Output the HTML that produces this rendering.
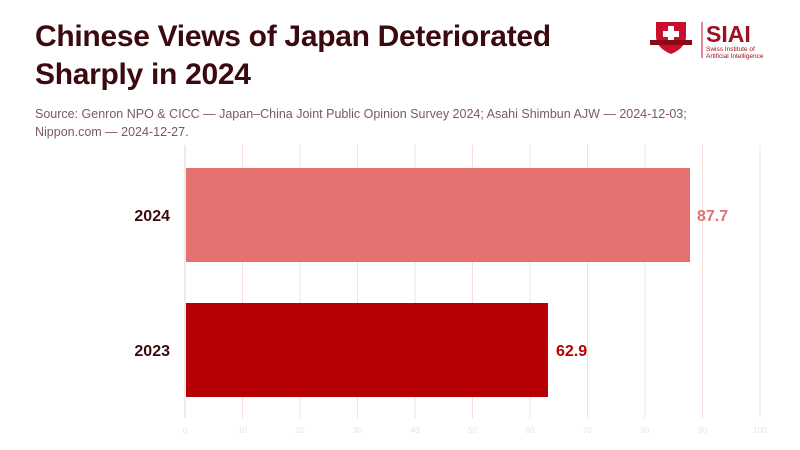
<!DOCTYPE html>
<html><head><meta charset="utf-8"><style>
body{margin:0;width:800px;height:450px;background:#fff;font-family:"Liberation Sans",sans-serif;position:relative;overflow:hidden}
.t{position:absolute;left:35px;top:18px;font-size:30px;font-weight:bold;color:#3b0a0f;line-height:38px;letter-spacing:-0.3px}
.s{position:absolute;left:35px;top:105px;font-size:12.5px;color:#7a5a5e;line-height:18px}
</style></head><body>
<div class="t">Chinese Views of Japan Deteriorated<br>Sharply in 2024</div>
<div class="s">Source: Genron NPO &amp; CICC — Japan–China Joint Public Opinion Survey 2024; Asahi Shimbun AJW — 2024-12-03;<br>Nippon.com — 2024-12-27.</div>
<svg width="800" height="450" style="position:absolute;left:0;top:0">
<g stroke="#f6dede" stroke-width="1">
<line x1="185" y1="145" x2="185" y2="418" stroke="#e6d6d6"/>
<line x1="242.5" y1="145" x2="242.5" y2="418"/><line x1="300" y1="145" x2="300" y2="418"/>
<line x1="357.5" y1="145" x2="357.5" y2="418"/><line x1="415" y1="145" x2="415" y2="418"/>
<line x1="472.5" y1="145" x2="472.5" y2="418"/><line x1="530" y1="145" x2="530" y2="418"/>
<line x1="587.5" y1="145" x2="587.5" y2="418"/><line x1="645" y1="145" x2="645" y2="418"/>
<line x1="702.5" y1="145" x2="702.5" y2="418"/><line x1="760" y1="145" x2="760" y2="418"/>
</g>
<g fill="#f7dcdc" font-size="8" text-anchor="middle">
<text x="185" y="433">0</text><text x="242.5" y="433">10</text><text x="300" y="433">20</text><text x="357.5" y="433">30</text><text x="415" y="433">40</text><text x="472.5" y="433">50</text><text x="530" y="433">60</text><text x="587.5" y="433">70</text><text x="645" y="433">80</text><text x="702.5" y="433">90</text><text x="760" y="433">100</text>
</g>
<rect x="186" y="168" width="504" height="94" fill="#e47070"/>
<rect x="186" y="303" width="362" height="94" fill="#b60005"/>
<g font-size="16" font-weight="bold">
<text x="170" y="221" text-anchor="end" fill="#3b0a0f">2024</text>
<text x="170" y="356" text-anchor="end" fill="#3b0a0f">2023</text>
<text x="697" y="221" fill="#e47070">87.7</text>
<text x="556" y="356" fill="#b60005">62.9</text>
</g>
<path d="M656 22 h30 v14 q0 12 -15 18 q-15 -6 -15 -18z" fill="#c8102e"/>
<rect x="668" y="26" width="6" height="16" fill="#fff"/><rect x="663" y="31" width="16" height="6" fill="#fff"/>
<rect x="650" y="40" width="42" height="5" fill="#8b0a16"/>
<line x1="702" y1="22" x2="702" y2="58" stroke="#c8102e" stroke-width="1"/>
<text x="706" y="42" font-size="23" font-weight="bold" fill="#a0101e">SIAI</text>
<text x="706" y="51" font-size="6.5" fill="#a0101e">Swiss Institute of</text>
<text x="706" y="58" font-size="6.5" fill="#a0101e">Artificial Intelligence</text>
</svg>
</body></html>
